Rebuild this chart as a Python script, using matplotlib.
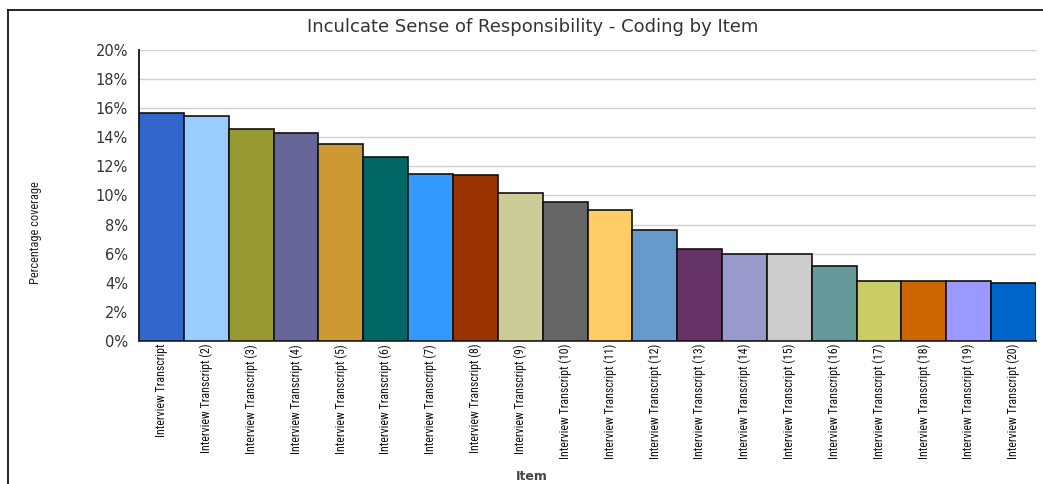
import matplotlib
matplotlib.use("Agg")
import matplotlib.pyplot as plt
from matplotlib import font_manager
from matplotlib.lines import Line2D

# data
items = ["Interview Transcript"] + ["Interview Transcript (%d)" % i for i in range(2, 21)]
coverage = [15.68, 15.49, 14.55, 14.28, 13.54, 12.67, 11.47, 11.40, 10.16, 9.56,
            9.03, 7.61, 6.32, 6.00, 6.00, 5.13, 4.09, 4.09, 4.09, 3.98]
bar_colors = ["#3366CC", "#99CCFF", "#999933", "#666699", "#CC9933", "#006666",
              "#3399FF", "#993300", "#CCCC99", "#666666", "#FFCC66", "#6699CC",
              "#663366", "#9999CC", "#CCCCCC", "#669999", "#CCCC66", "#CC6600",
              "#9999FF", "#0066CC"]
y_ticks = list(range(0, 21, 2))

# narrow font for the rotated labels, if one is around
installed = {f.name for f in font_manager.fontManager.ttflist}
narrow = None
for name in ["Liberation Sans Narrow", "Arial Narrow", "DejaVu Sans Condensed", "Roboto Condensed"]:
    if name in installed:
        narrow = name
        break
if narrow:
    lab_font = dict(family=narrow, fontsize=8.6)
else:
    lab_font = dict(family="Liberation Sans", fontsize=7.2)

fig = plt.figure(figsize=(10.43, 4.84), dpi=100)
ax = fig.add_axes([0.1333, 0.2955, 0.8600, 0.6012])

x = range(len(items))
ax.bar(x, coverage, width=1.0, color=bar_colors, edgecolor="#111111", linewidth=1.2, zorder=3)

ax.set_xlim(-0.5, len(items) - 0.5)
ax.set_ylim(0, 20)
ax.set_yticks(y_ticks)
ax.set_yticklabels(["%d%%" % v for v in y_ticks], fontsize=10.5, family="DejaVu Sans",
                   color="#333333")
ax.set_xticks(list(x))
ax.set_xticklabels(items, rotation=90, color="#111111", **lab_font)
ax.tick_params(axis="both", length=0)
ax.tick_params(axis="x", pad=2)
ax.tick_params(axis="y", pad=8)

ax.grid(axis="y", color="#d0d0d0", linewidth=1.0, zorder=0)
for side in ["top", "right"]:
    ax.spines[side].set_visible(False)
ax.spines["left"].set_color("#111111")
ax.spines["left"].set_linewidth(1.3)
ax.spines["bottom"].set_color("#333333")
ax.spines["bottom"].set_linewidth(1.3)

fig.text(0.511, 0.944, "Inculcate Sense of Responsibility - Coding by Item",
         ha="center", va="center", fontsize=13, family="DejaVu Sans", color="#333333")
ylab_font = dict(lab_font)
ylab_font["fontsize"] = lab_font["fontsize"] + 0.3
fig.text(0.034, 0.52, "Percentage coverage", rotation=90, ha="center", va="center",
         color="#222222", **ylab_font)
fig.text(0.51, 0.016, "Item", ha="center", va="center", fontsize=9,
         fontweight="bold", family="DejaVu Sans", color="#444444")

# outer frame (left and top only, as in the screenshot)
fig.add_artist(Line2D([0.008, 0.008], [0.0, 0.979], color="black", linewidth=1.2,
                      transform=fig.transFigure))
fig.add_artist(Line2D([0.008, 1.0], [0.979, 0.979], color="black", linewidth=1.2,
                      transform=fig.transFigure))

fig.savefig("out.png", dpi=100)
